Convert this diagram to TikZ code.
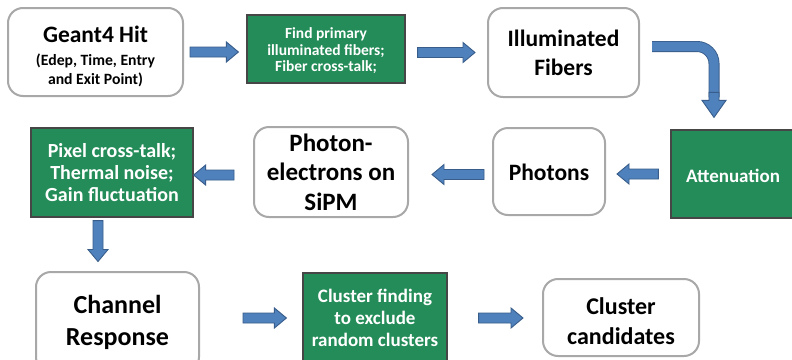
\documentclass[tikz,border=0pt]{standalone}
\usepackage{fontspec}
\setmainfont{Carlito}
\usetikzlibrary{calc,positioning}

\definecolor{boxgreen}{RGB}{36,140,88}
\definecolor{greenedge}{RGB}{70,70,70}
\definecolor{softgray}{RGB}{168,168,168}
\definecolor{arrowblue}{RGB}{79,129,189}
\definecolor{arrowedge}{RGB}{56,93,138}

\begin{document}
\begin{tikzpicture}[
    x=1pt, y=-1pt,
    softbox/.style={rectangle, draw=softgray, line width=2pt, rounded corners=15pt, fill=white, align=center, inner sep=0pt, font=\bfseries\fontsize{23.5}{29}\selectfont},
    greenbox/.style={rectangle, draw=greenedge, line width=1.2pt, fill=boxgreen, text=white, align=center, inner sep=0pt, font=\bfseries\fontsize{19}{22}\selectfont},
    fat/.style 2 args={fill=arrowblue, draw=arrowedge, line width=0.9pt, line join=miter,
        to path={let \p1=(\tikztostart), \p2=(\tikztotarget),
            \n1={atan2(\y2-\y1,\x2-\x1)}, \n2={veclen(\x2-\x1,\y2-\y1)} in
            {[shift={(\p1)}, rotate=\n1]
            (0pt,-5pt) -- ({\n2*1pt-#2pt},-5pt) -- ({\n2*1pt-#2pt},-#1pt) -- ({\n2*1pt},0pt)
            -- ({\n2*1pt-#2pt},#1pt) -- ({\n2*1pt-#2pt},5pt) -- (0pt,5pt) -- cycle}}},
    bentshaft/.style={draw=arrowedge, line width=0.9pt, double=arrowblue, double distance=9.2pt, rounded corners=17pt}
]
    \useasboundingbox (0,0) rectangle (792,359);
    \clip (0,0) rectangle (792,359);
    \fill[white] (0,0) rectangle (792,359);

    % top row
    \node[softbox, minimum width=175pt, minimum height=88pt, font=\bfseries\fontsize{15.7}{19}\selectfont] (hit) at (95.5,52)
        {\rule{0pt}{26pt}{\fontsize{23.5}{29}\selectfont Geant4 Hit}\\[4pt] (Edep, Time, Entry\\ and Exit Point)};
    \node[greenbox, minimum width=158pt, minimum height=68pt, font=\bfseries\fontsize{15.5}{16.5}\selectfont] (find) at (326,49)
        {\rule{0pt}{15pt}Find primary\\ illuminated fibers;\\ Fiber cross-talk;};
    \node[softbox, minimum width=151pt, minimum height=89pt] (fib) at (563.5,52.5) {Illuminated\\ Fibers};

    % middle row
    \node[greenbox, minimum width=124pt, minimum height=88pt] (att) at (733,174) {\rule{0pt}{18pt}Attenuation};
    \node[softbox, minimum width=112pt, minimum height=87pt] (pho) at (549,171.5) {\rule{0pt}{19pt}Photons};
    \node[softbox, minimum width=154pt, minimum height=90pt, font=\bfseries\fontsize{25}{29.5}\selectfont] (pe) at (331,172) {Photon-\\ electrons on\\ SiPM};
    \node[greenbox, minimum width=162pt, minimum height=89pt, font=\bfseries\fontsize{20}{22}\selectfont] (pix) at (112,172.5)
        {Pixel cross-talk;\\ Thermal noise;\\ Gain fluctuation};

    % bottom row
    \node[softbox, minimum width=163pt, minimum height=100pt, font=\bfseries\fontsize{26}{32}\selectfont] (chan) at (117.5,322) {Channel\\ Response};
    \node[greenbox, minimum width=144pt, minimum height=90pt] (clf) at (375,318)
        {Cluster finding\\ to exclude\\ random clusters};
    \node[softbox, minimum width=156pt, minimum height=77pt, font=\bfseries\fontsize{24}{29.5}\selectfont] (cand) at (621,317.5) {\rule{0pt}{24pt}Cluster\\ candidates};

    % connectors
    \draw[fat={10}{12}] ($(hit.east)+(6,0)$) to ($(hit.east -| find.west)+(-8,0)$);
    \draw[fat={10}{12}] ($(find.east |- fib.west)+(12,0)$) to ($(fib.west)+(-12,0)$);

    \coordinate (bendtip) at ($(att.north)+(-19,-12)$);
    \draw[bentshaft] ($(fib.east)+(12,-6)$) -| ($(bendtip)+(0,-20)$);
    \draw[fat={12}{17}] ($(bendtip)+(0,-25)$) to (bendtip);

    \draw[fat={10}{12}] ($(att.west)+(-12,0)$) to ($(att.west -| pho.east)+(11,0)$);
    \draw[fat={10}{12}] ($(pho.west)+(-8,3)$) to ($(pho.west -| pe.east)+(23,3)$);
    \draw[fat={10}{12}] ($(pe.west)+(-19,3)$) to ($(pe.west -| pix.east)+(0,3)$);
    \draw[fat={10}{12}] ($(pix.south)+(-14,3)$) to ($(chan.north)+(-19.5,-9.5)$);
    \draw[fat={10}{12}] ($(chan.east)+(43,-4)$) to ($(chan.east -| clf.west)+(-16,-4)$);
    \draw[fat={10}{12}] ($(clf.east)+(31,0)$) to ($(clf.east -| cand.west)+(-19,0)$);
\end{tikzpicture}
\end{document}
